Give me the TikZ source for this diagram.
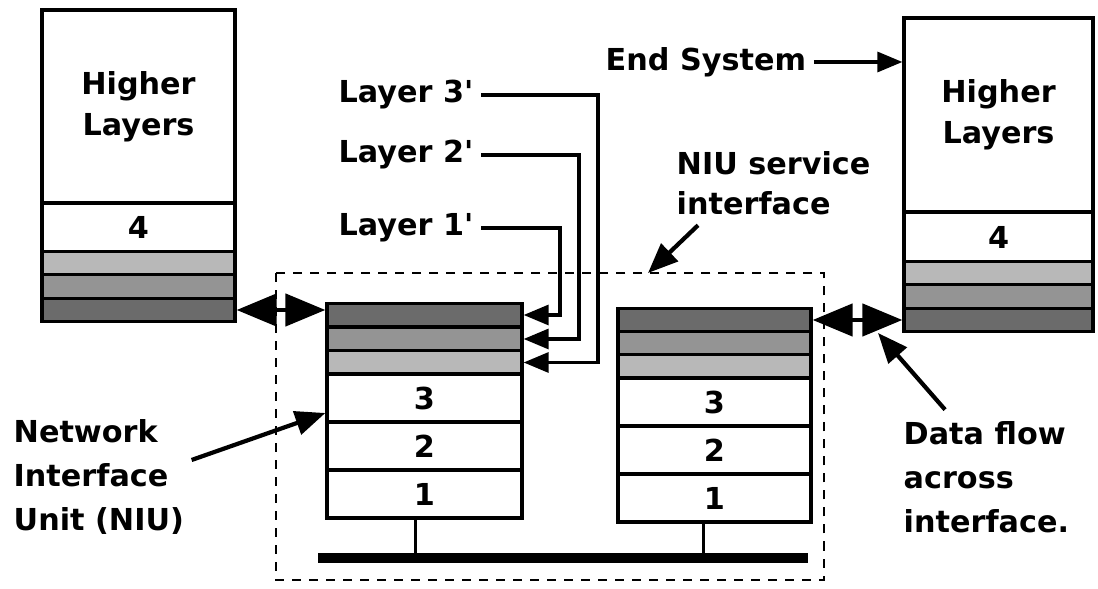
\documentclass[tikz,border=0pt]{standalone}
\usepackage{fontspec}
\setmainfont{DejaVu Sans}
\usetikzlibrary{arrows.meta}

\begin{document}
\begin{tikzpicture}
  [
    x=0.01cm, y=-0.01cm,
    every node/.style={font=\fontsize{8.6pt}{12.5pt}\selectfont\bfseries},
    box/.style={draw, line width=0.9pt, inner sep=0pt, align=center},
    txt/.style={anchor=west, align=left, inner xsep=0.07cm, inner ysep=0pt},
    both/.style={{Triangle[length=0.4cm,width=0.32cm]}-{Triangle[length=0.4cm,width=0.32cm]}, line width=1.3pt},
    ptr/.style={-{Triangle[length=0.3cm,width=0.24cm]}, line width=1.2pt},
    feed/.style={-{Triangle[length=0.25cm,width=0.2cm]}, line width=0.9pt},
    iface/.style={line width=0.8pt, dash pattern=on 0.09cm off 0.08cm}
  ]
  \useasboundingbox (0,0) rectangle (1098,589);
  % end system, left
  \node[box, minimum width=1.93cm, minimum height=1.93cm] (hiA) at (138.5,106.5) {Higher\\[-0.9pt]Layers};
  \node[box, minimum width=1.93cm, minimum height=0.49cm] (fourA) at (138.5,227.5) {4};
  \foreach \n/\y/\g in {1/263.5/28, 2/286.5/42, 3/310/58} {
    \node[box, fill=black!\g, minimum width=1.93cm, minimum height=0.235cm] (lyA\n) at (138.5,\y) {};
  }
  % end system, right
  \node[box, minimum width=1.89cm, minimum height=1.94cm] (hiB) at (998.5,115) {Higher\\[-0.9pt]Layers};
  \node[box, minimum width=1.89cm, minimum height=0.5cm] (fourB) at (998.5,237) {4};
  \foreach \n/\y/\g in {1/273.5/28, 2/296.5/42, 3/320/58} {
    \node[box, fill=black!\g, minimum width=1.89cm, minimum height=0.235cm] (lyB\n) at (998.5,\y) {};
  }
  % NIU, left
  \foreach \n/\y/\g in {1/315/58, 2/339/42, 3/362.5/28} {
    \node[box, fill=black!\g, minimum width=1.95cm, minimum height=0.235cm] (tA\n) at (424.5,\y) {};
  }
  \foreach \n/\y in {3/398, 2/446, 1/494} {
    \node[box, minimum width=1.95cm, minimum height=0.48cm] (nA\n) at (424.5,\y) {\n};
  }
  % NIU, right
  \foreach \n/\y/\g in {1/320/58, 2/343.5/42, 3/366.5/28} {
    \node[box, fill=black!\g, minimum width=1.93cm, minimum height=0.235cm] (tB\n) at (714.5,\y) {};
  }
  \foreach \n/\y in {3/402, 2/450, 1/498} {
    \node[box, minimum width=1.93cm, minimum height=0.48cm] (nB\n) at (714.5,\y) {\n};
  }
  % network
  \coordinate (busW) at (318,558);
  \coordinate (busE) at (808,558);
  \draw[line width=0.1cm] (busW) -- (busE);
  \draw[line width=0.9pt] ([xshift=-0.09cm]nA1.south) -- ([xshift=-0.09cm]nA1.south |- busW);
  \draw[line width=0.9pt] ([xshift=-0.11cm]nB1.south) -- ([xshift=-0.11cm]nB1.south |- busW);
  % service interface
  \draw[iface] (276,273) rectangle (824,580);
  \coordinate (siTip) at (648,273);
  % data flow
  \draw[both] (lyA3.east) -- (lyA3.east -| tA1.west);
  \draw[both] (tB1.east) -- (tB1.east -| lyB3.west);
  % layer labels
  \node[txt] (lay3) at (331,95) {Layer 3\textquotesingle};
  \node[txt] (lay2) at (331,155) {Layer 2\textquotesingle};
  \node[txt] (lay1) at (331,228) {Layer 1\textquotesingle};
  \coordinate (bend1) at (560,0);
  \coordinate (bend2) at (579,0);
  \coordinate (bend3) at (598,0);
  \draw[feed] (lay1.east) -| (bend1 |- tA1.east) -- (tA1.east);
  \draw[feed] (lay2.east) -| (bend2 |- tA2.east) -- (tA2.east);
  \draw[feed] (lay3.east) -| (bend3 |- tA3.east) -- (tA3.east);
  % other labels
  \node[txt] (endsys) at (598,62) {End System};
  \draw[feed] (endsys.east) -- (endsys.east -| hiB.west);
  \node[txt] (svc) at (669,183) {NIU service\\[-1.2pt]interface};
  \draw[ptr] ([xshift=0.29cm,yshift=-0.1cm]svc.south west) -- (siTip);
  \node[txt] (niu) at (6,477) {Network\\Interface\\Unit (NIU)};
  \draw[ptr] ([yshift=0.17cm]niu.east) -- ([yshift=-0.15cm]nA3.west);
  \node[txt] (flow) at (896,477) {Data flow\\across\\interface.};
  \coordinate (flowTip) at (878,333);
  \draw[ptr] ([xshift=0.49cm,yshift=0.11cm]flow.north west) -- (flowTip);
\end{tikzpicture}
\end{document}
